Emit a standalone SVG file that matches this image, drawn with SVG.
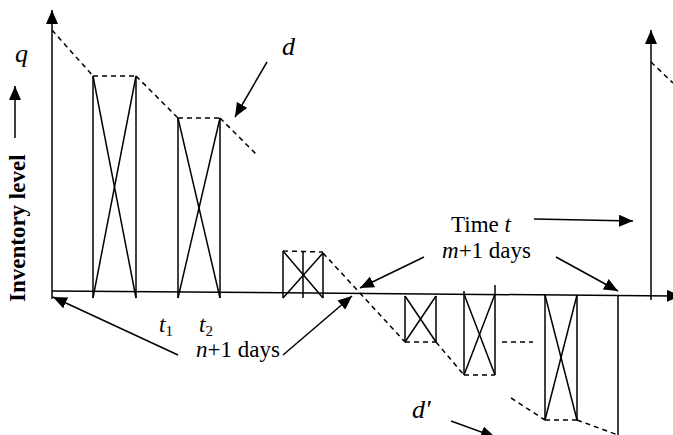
<svg xmlns="http://www.w3.org/2000/svg" width="673" height="435" viewBox="0 0 673 435">
<defs>
<marker id="ah" markerUnits="userSpaceOnUse" markerWidth="15" markerHeight="12" refX="14" refY="6" orient="auto">
<path d="M0,0 L14,6 L0,12 z" fill="#000"/>
</marker>
<style>
.s{stroke:#000;stroke-width:1.5;fill:none}
.d{stroke:#000;stroke-width:1.5;fill:none;stroke-dasharray:5 4}
.a{stroke:#000;stroke-width:1.5;fill:none;marker-end:url(#ah)}
.t{font-family:"Liberation Serif",serif;font-size:23px;fill:#000}
.i{font-style:italic}
.v{font-size:26px}
</style>
</defs>
<rect width="673" height="435" fill="#fff"/>
<g id="axes">
<line class="a" x1="52" y1="299" x2="52" y2="10"/>
<line class="a" x1="52" y1="291" x2="681" y2="296"/>
<line class="a" x1="651" y1="300" x2="651" y2="30"/>
</g>
<g id="ylabel">
<text class="t" font-weight="bold" font-size="25.5" transform="translate(25,302) rotate(-90)">Inventory level</text>
<line class="a" x1="15" y1="138" x2="15" y2="86"/>
</g>
<g id="box1">
<line class="s" x1="93" y1="76" x2="93" y2="298"/>
<line class="s" x1="136" y1="76" x2="136" y2="298"/>
<line class="s" x1="93" y1="76" x2="136" y2="298"/>
<line class="s" x1="136" y1="76" x2="93" y2="298"/>
<line class="d" x1="93" y1="76" x2="136" y2="76"/>
</g>
<g id="box2">
<line class="s" x1="178" y1="118" x2="178" y2="298"/>
<line class="s" x1="220" y1="118" x2="220" y2="298"/>
<line class="s" x1="178" y1="118" x2="220" y2="298"/>
<line class="s" x1="220" y1="118" x2="178" y2="298"/>
<line class="d" x1="178" y1="118" x2="220" y2="118"/>
</g>
<g id="box3">
<line class="s" x1="283" y1="251" x2="283" y2="298"/>
<line class="s" x1="303" y1="252" x2="303" y2="298"/>
<line class="s" x1="323" y1="253" x2="323" y2="298"/>
<line class="s" x1="283" y1="251" x2="323" y2="298"/>
<line class="s" x1="323" y1="253" x2="283" y2="298"/>
<line class="d" x1="283" y1="251" x2="323" y2="252"/>
</g>
<g id="boxA">
<line class="s" x1="405" y1="296" x2="405" y2="342"/>
<line class="s" x1="436" y1="296" x2="436" y2="342"/>
<line class="s" x1="405" y1="296" x2="436" y2="342"/>
<line class="s" x1="436" y1="296" x2="405" y2="342"/>
<line class="d" x1="405" y1="342" x2="436" y2="342"/>
</g>
<g id="boxB">
<line class="s" x1="464" y1="291" x2="464" y2="375"/>
<line class="s" x1="495" y1="285" x2="495" y2="375"/>
<line class="s" x1="464" y1="294" x2="495" y2="375"/>
<line class="s" x1="495" y1="294" x2="464" y2="375"/>
<line class="d" x1="464" y1="375" x2="495" y2="375"/>
</g>
<g id="boxC">
<line class="s" x1="545" y1="295" x2="545" y2="420"/>
<line class="s" x1="577" y1="295" x2="577" y2="420"/>
<line class="s" x1="545" y1="295" x2="577" y2="420"/>
<line class="s" x1="577" y1="295" x2="545" y2="420"/>
<line class="d" x1="545" y1="420" x2="577" y2="420"/>
</g>
<g id="connectors">
<line class="d" x1="52" y1="30" x2="93" y2="76"/>
<line class="d" x1="136" y1="76" x2="178" y2="118"/>
<line class="d" x1="220" y1="118" x2="258" y2="156"/>
<line class="d" x1="323" y1="253" x2="405" y2="342"/>
<line class="d" x1="436" y1="342" x2="464" y2="375"/>
<line class="d" x1="502" y1="342" x2="533" y2="342"/>
<line class="d" x1="511" y1="398" x2="545" y2="420"/>
<line class="d" x1="577" y1="420" x2="618" y2="435"/>
<line class="d" x1="651" y1="62" x2="673" y2="83"/>
<line class="s" x1="618" y1="295" x2="618" y2="435"/>
<line class="a" x1="267" y1="62" x2="235" y2="117"/>
<line class="a" x1="178" y1="355" x2="53" y2="297"/>
<line class="a" x1="283" y1="355" x2="352" y2="296"/>
<line class="a" x1="534" y1="219" x2="633" y2="221"/>
<line class="a" x1="424" y1="257" x2="360" y2="288"/>
<line class="a" x1="556" y1="257" x2="618" y2="291"/>
<line class="a" x1="451" y1="421" x2="495" y2="437"/>
</g>
<g id="labels">
<text class="t i v" x="15" y="62">q</text>
<text class="t i v" x="282" y="55">d</text>
<text class="t i v" x="412" y="418">d′</text>
<text class="t" x="159" y="332"><tspan class="i">t</tspan><tspan font-size="15" dy="4">1</tspan></text>
<text class="t" x="199" y="332"><tspan class="i">t</tspan><tspan font-size="15" dy="4">2</tspan></text>
<text class="t" x="196" y="357"><tspan class="i">n</tspan>+1 days</text>
<text class="t" x="451" y="232">Time <tspan class="i">t</tspan></text>
<text class="t" x="442" y="258"><tspan class="i">m</tspan>+1 days</text>
</g>
</svg>
